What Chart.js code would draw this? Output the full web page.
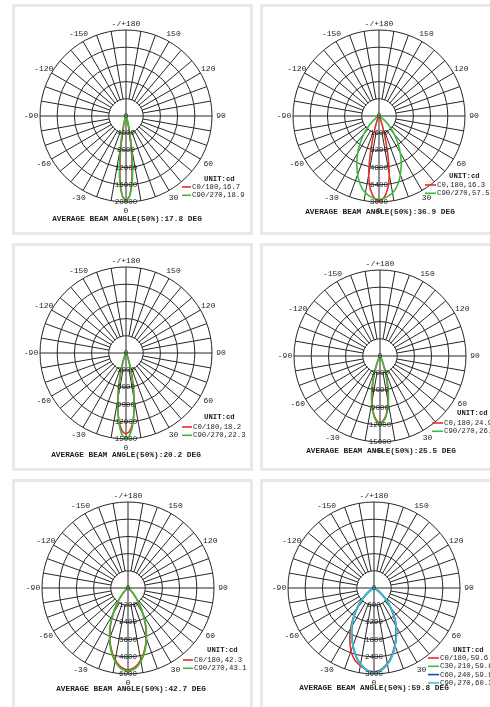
<!DOCTYPE html>
<html><head><meta charset="utf-8">
<script src="https://cdn.jsdelivr.net/npm/chart.js"></script>
<style>
html,body{margin:0;padding:0;background:#fff;width:490px;height:707px;overflow:hidden;position:relative}
.panel{position:absolute;border:3px solid #e8e8e8;box-sizing:border-box;border-radius:1px}
canvas{position:absolute}
</style></head><body>
<div class="panel" style="left:12px;top:4px;width:241px;height:231px"></div>
<div class="panel" style="left:260px;top:4px;width:250px;height:231px"></div>
<div class="panel" style="left:12px;top:243px;width:241px;height:228px"></div>
<div class="panel" style="left:260px;top:243px;width:250px;height:228px"></div>
<div class="panel" style="left:12px;top:479px;width:241px;height:240px"></div>
<div class="panel" style="left:260px;top:479px;width:250px;height:240px"></div>
<script>
// ---------- data ----------
const gammaDeg = [0, 2.5, 5, 7.5, 10, 12.5, 15, 17.5, 20, 25, 30, 35, 40, 45, 50, 60, 70, 80, 90];
const angleTickDeg = [0, -30, -60, -90, -120, -150, 180, 150, 120, 90, 60, 30];

const ticks1 = [4000, 8000, 12000, 16000, 20000];
const ticks2 = [1600, 3200, 4800, 6400, 8000];
const ticks3 = [3000, 6000, 9000, 12000, 15000];
const ticks4 = [3000, 6000, 9000, 12000, 15000];
const ticks5 = [1200, 2400, 3600, 4800, 6000];
const ticks6 = [600, 1200, 1800, 2400, 3000];

const series1 = ['C0/180,16.7', 'C90/270,18.9'];
const series2 = ['C0,180,16.3', 'C90/270,57.5'];
const series3 = ['C0/180,18.2', 'C90/270,22.3'];
const series4 = ['C0,180,24.9', 'C90/270,26.1'];
const series5 = ['C0/180,42.3', 'C90/270,43.1'];
const series6 = ['C0/180,59.6', 'C30,210,59.6', 'C60,240,59.9', 'C90,270,60.3'];

const beamAngles = ['17.8', '36.9', '20.2', '25.5', '42.7', '59.8'];

// intensities (cd) at gammaDeg
const i1_C0  = [19800, 18700, 15400, 10600, 6200, 3200, 1600, 900, 520, 230, 110, 70, 45, 30, 20, 10, 5, 0, 0];
const i1_C90 = [19600, 18700, 16000, 11800, 7400, 4100, 2100, 1100, 620, 260, 120, 75, 50, 30, 20, 10, 5, 0, 0];

const i2_C0  = [7900, 7750, 7300, 6600, 5500, 3900, 2400, 1400, 800, 320, 140, 80, 50, 30, 20, 10, 5, 0, 0];
const i2_C90 = [7750, 7700, 7600, 7450, 7250, 7000, 6650, 6250, 5800, 4900, 3950, 3050, 2200, 1450, 850, 250, 60, 10, 0];

const i3_C0  = [14100, 13700, 12500, 10600, 8300, 5900, 3800, 2300, 1300, 450, 180, 100, 60, 40, 25, 12, 5, 0, 0];
const i3_C90 = [14900, 14400, 12900, 10600, 7900, 5300, 3300, 1900, 1100, 400, 160, 90, 55, 35, 25, 12, 5, 0, 0];

const i4_C0  = [11600, 11350, 10650, 9550, 8150, 6500, 4800, 3350, 2200, 900, 350, 170, 100, 60, 35, 15, 5, 0, 0];
const i4_C90 = [11800, 11550, 10850, 9750, 8400, 6800, 5100, 3600, 2400, 1000, 400, 190, 110, 65, 40, 15, 5, 0, 0];

const i5_C0  = [5700, 5650, 5550, 5350, 5100, 4800, 4450, 4100, 3700, 2900, 2050, 1350, 800, 420, 200, 50, 15, 5, 0];
const i5_C90 = [5800, 5750, 5650, 5450, 5200, 4900, 4550, 4180, 3780, 2980, 2120, 1400, 840, 450, 220, 55, 15, 5, 0];

const i6_C0   = [2920, 2900, 2850, 2770, 2670, 2560, 2420, 2270, 2120, 1830, 1530, 1220, 910, 630, 390, 125, 30, 5, 0];
const i6_C180 = [2920, 2910, 2880, 2820, 2750, 2680, 2600, 2480, 2340, 2000, 1620, 1250, 920, 640, 400, 130, 30, 5, 0];
const i6_C30  = [2940, 2920, 2870, 2790, 2690, 2580, 2440, 2290, 2140, 1840, 1540, 1225, 915, 635, 395, 128, 30, 5, 0];
const i6_C60  = [2945, 2925, 2875, 2795, 2695, 2585, 2445, 2295, 2145, 1845, 1545, 1228, 918, 638, 398, 129, 30, 5, 0];
const i6_C90  = [2950, 2930, 2880, 2800, 2700, 2590, 2450, 2300, 2150, 1850, 1550, 1230, 920, 640, 400, 130, 30, 5, 0];

// ---------- layout / style ----------
const GRID = '#262626';
const TXT = '#1e1e1e';
const FONT = "'Liberation Mono', monospace";
const COLORS2 = ['#e3302b', '#3bbb3b'];
const COLORS4 = ['#e3302b', '#3bbb3b', '#2540c4', '#3ec3d6'];
const CW = 250, CH = 240, OX = 125, OY = 116, RADIUS = 86;
const layout = [
  {cx:126, cy:116, tdx:1, tdy:103, ux:78, uy:63, lx:56, tx:66, ly:71},
  {cx:379, cy:116, tdx:1, tdy:96,  ux:70, uy:60, lx:46, tx:58, ly:69},
  {cx:126, cy:353, tdx:0, tdy:102, ux:78, uy:64, lx:56, tx:67, ly:74},
  {cx:380, cy:356, tdx:1, tdy:95,  ux:77, uy:57, lx:52, tx:64, ly:67},
  {cx:128, cy:588, tdx:3, tdy:101, ux:79, uy:62, lx:55, tx:66, ly:72},
  {cx:374, cy:588, tdx:0, tdy:100, ux:79, uy:62, lx:54, tx:66, ly:70}
];

const specs = [
  {ticks: ticks1, names: series1, right: [i1_C0, i1_C90], left: [i1_C0, i1_C90]},
  {ticks: ticks2, names: series2, right: [i2_C0, i2_C90], left: [i2_C0, i2_C90]},
  {ticks: ticks3, names: series3, right: [i3_C0, i3_C90], left: [i3_C0, i3_C90]},
  {ticks: ticks4, names: series4, right: [i4_C0, i4_C90], left: [i4_C0, i4_C90]},
  {ticks: ticks5, names: series5, right: [i5_C0, i5_C90], left: [i5_C0, i5_C90]},
  {ticks: ticks6, names: series6, right: [i6_C0, i6_C30, i6_C60, i6_C90], left: [i6_C180, i6_C30, i6_C60, i6_C90]}
];

// angle categories: index 0 at bottom (0 deg), going clockwise on screen through -90 (left)
const ANGLE_STEP = 2.5;
const angleLabels = [];
for (let i = 0; i < 360 / ANGLE_STEP; i++) {
  let a = -i * ANGLE_STEP;
  if (a < -180) a += 360;
  if (a === -180) a = 180;
  angleLabels.push(a);
}

function buildSeries(rightVals, leftVals) {
  return angleLabels.map(a => {
    if (Math.abs(a) > 90) return null;
    const k = gammaDeg.indexOf(Math.abs(a));
    if (k < 0) return null;
    return (a >= 0 ? rightVals : leftVals)[k];
  });
}

function makeDecor(spec, lay, colors) {
  return {
    id: 'polarDecor',
    beforeDatasetsDraw(chart) {
      const s = chart.scales.r, ctx = chart.ctx;
      const cx = s.xCenter, cy = s.yCenter;
      const r1 = s.getDistanceFromCenterForValue(spec.ticks[0]);
      ctx.save();
      ctx.fillStyle = '#fff';
      ctx.beginPath(); ctx.arc(cx, cy, r1 - 0.7, 0, Math.PI * 2); ctx.fill();
      ctx.strokeStyle = GRID; ctx.lineWidth = 1;
      ctx.beginPath();
      ctx.moveTo(cx - r1, cy); ctx.lineTo(cx + r1, cy);
      ctx.moveTo(cx, cy - r1); ctx.lineTo(cx, cy + r1);
      ctx.stroke();
      ctx.restore();
    },
    afterDatasetsDraw(chart) {
      const s = chart.scales.r, ctx = chart.ctx;
      const cx = s.xCenter, cy = s.yCenter;
      ctx.save();
      ctx.fillStyle = TXT;
      ctx.textAlign = 'center';
      ctx.textBaseline = 'middle';
      // radial tick labels along the 0-degree axis
      ctx.font = '7.5px ' + FONT;
      ctx.fillText('0', cx, cy);
      s.ticks.forEach(t => {
        if (t.value <= 0) return;
        const d = s.getDistanceFromCenterForValue(t.value);
        ctx.fillText(String(t.value), cx, cy + d);
      });
      // angle labels
      ctx.font = '8px ' + FONT;
      angleTickDeg.forEach(a => {
        const idx = angleLabels.indexOf(a);
        const dist = a === 180 ? RADIUS + 6 : RADIUS + 9;
        const p = s.getPointPosition(idx, dist);
        ctx.fillText(a === 180 ? '-/+180' : String(a), p.x, p.y);
      });
      // legend
      ctx.textAlign = 'left';
      ctx.font = 'bold 7.3px ' + FONT;
      ctx.fillText('UNIT:cd', cx + lay.ux, cy + lay.uy);
      ctx.font = '7.3px ' + FONT;
      spec.names.forEach((n, j) => {
        const y = cy + lay.ly + j * 8.3;
        ctx.strokeStyle = colors[j]; ctx.lineWidth = 1.6;
        ctx.beginPath(); ctx.moveTo(cx + lay.lx, y); ctx.lineTo(cx + lay.tx - 1, y); ctx.stroke();
        ctx.fillText(n, cx + lay.tx, y);
      });
      // title
      ctx.textAlign = 'center';
      ctx.font = 'bold 7.8px ' + FONT;
      ctx.fillText('AVERAGE BEAM ANGLE(50%):' + beamAngles[chart.$idx] + ' DEG', cx + lay.tdx, cy + lay.tdy);
      ctx.restore();
    }
  };
}

specs.forEach((spec, ci) => {
  const lay = layout[ci];
  const colors = spec.names.length === 4 ? COLORS4 : COLORS2;
  const cv = document.createElement('canvas');
  cv.width = CW; cv.height = CH;
  cv.style.left = (lay.cx - OX) + 'px';
  cv.style.top = (lay.cy - OY) + 'px';
  cv.style.width = CW + 'px'; cv.style.height = CH + 'px';
  document.body.appendChild(cv);
  const n = spec.names.length;
  const datasets = spec.names.map((name, j) => ({
    label: name,
    data: buildSeries(spec.right[j], spec.left[j]),
    borderColor: colors[j],
    borderWidth: 1.6,
    pointRadius: 0,
    fill: false,
    spanGaps: true,
    tension: 0.15,
    order: n - j
  }));
  const ch = new Chart(cv, {
    type: 'radar',
    data: {labels: angleLabels, datasets},
    options: {
      responsive: false,
      animation: false,
      devicePixelRatio: 1,
      plugins: {legend: {display: false}, tooltip: {enabled: false}},
      layout: {padding: 0},
      scales: {
        r: {
          min: 0,
          max: spec.ticks[spec.ticks.length - 1],
          startAngle: 180,
          ticks: {display: false, stepSize: spec.ticks[0]},
          pointLabels: {display: false},
          grid: {circular: true, color: GRID, lineWidth: 1},
          angleLines: {
            color: GRID,
            lineWidth: c => (angleLabels[c.index] % 10 === 0 ? 1 : 0)
          },
          afterFit(sc) { sc.xCenter = OX; sc.yCenter = OY; sc.drawingArea = RADIUS; }
        }
      }
    },
    plugins: [makeDecor(spec, lay, colors)]
  });
  ch.$idx = ci;
  ch.update();
});
</script>
</body></html>
